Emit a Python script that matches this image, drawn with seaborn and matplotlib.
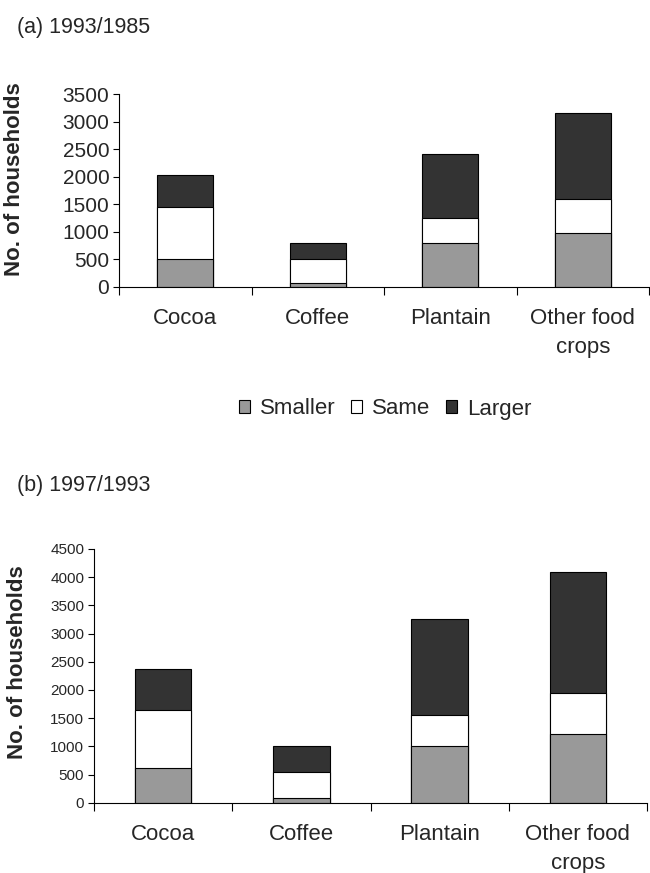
import matplotlib
matplotlib.use("Agg")
import matplotlib.pyplot as plt
import pandas as pd
import seaborn as sns
from matplotlib.patches import Patch

# Categories and stack segments (number of households)
crops = ["Cocoa", "Coffee", "Plantain", "Other food\ncrops"]
series = ["Smaller", "Same", "Larger"]
series_colors = ["#999999", "#ffffff", "#333333"]

# (a) 1993/1985
smaller_a = [500, 80, 800, 980]
same_a = [950, 420, 460, 620]
larger_a = [580, 300, 1160, 1550]

# (b) 1997/1993
smaller_b = [620, 80, 1000, 1210]
same_b = [1020, 460, 555, 730]
larger_b = [740, 460, 1705, 2160]

yticks_a = [0, 500, 1000, 1500, 2000, 2500, 3000, 3500]
yticks_b = [0, 500, 1000, 1500, 2000, 2500, 3000, 3500, 4000, 4500]

sns.set_style("ticks")
plt.rcParams["font.family"] = ["Liberation Sans", "DejaVu Sans"]

fig = plt.figure(figsize=(6.5, 8.73), dpi=100)


def long_table(smaller, same, larger):
    rows = []
    for name, vals in zip(series, [smaller, same, larger]):
        for crop, v in zip(crops, vals):
            rows.append({"crop": crop, "series": name, "value": v})
    df = pd.DataFrame(rows)
    df["series"] = pd.Categorical(df["series"], categories=series, ordered=True)
    df = df.sort_values(["crop", "series"])
    df["top"] = df.groupby("crop", sort=False)["value"].cumsum()
    return df


def stacked_panel(ax, df, yticks, bar_width, tick_fs, label_fs, ylabel_xy):
    # draw cumulative layers from the top segment down
    for name, col in reversed(list(zip(series, series_colors))):
        part = df[df["series"] == name]
        sns.barplot(data=part, x="crop", y="top", order=crops, color=col,
                    saturation=1, width=bar_width, edgecolor="black",
                    linewidth=0.8, ax=ax, errorbar=None)
    ax.set_xlim(-0.5, len(crops) - 0.5)
    ax.set_ylim(yticks[0], yticks[-1])
    ax.set_yticks(yticks)
    ax.set_yticklabels([str(t) for t in yticks], fontsize=tick_fs)
    ax.set_xlabel("")
    ax.set_ylabel("No. of households", fontsize=16, fontweight="bold")
    ax.yaxis.set_label_coords(*ylabel_xy)
    ax.set_xticks(range(len(crops)))
    ax.set_xticklabels(crops, fontsize=label_fs, linespacing=1.5)
    ax.set_xticks([i - 0.5 for i in range(len(crops) + 1)], minor=True)
    ax.tick_params(axis="x", which="major", length=0, pad=15)
    ax.tick_params(axis="x", which="minor", length=6, width=0.8,
                   direction="out", color="black")
    ax.tick_params(axis="y", length=4, width=0.8, direction="out",
                   color="black", pad=3)
    for side in ["top", "right"]:
        ax.spines[side].set_visible(False)
    for side in ["left", "bottom"]:
        ax.spines[side].set_color("black")
        ax.spines[side].set_linewidth(0.8)


ax_a = fig.add_axes([119 / 650, 1 - 287 / 873, 530 / 650, 193 / 873])
stacked_panel(ax_a, long_table(smaller_a, same_a, larger_a), yticks_a,
              0.42, 15, 16, (-0.177, 0.56))

ax_b = fig.add_axes([94 / 650, 1 - 802.7 / 873, 553 / 650, 253.7 / 873])
stacked_panel(ax_b, long_table(smaller_b, same_b, larger_b), yticks_b,
              0.41, 11, 16, (-0.119, 0.555))

fig.text(17 / 650, 1 - 27 / 873, "(a) 1993/1985", fontsize=15.5,
         ha="left", va="center")
fig.text(17 / 650, 1 - 485 / 873, "(b) 1997/1993", fontsize=15.5,
         ha="left", va="center")

handles = [Patch(facecolor=c, edgecolor="black", linewidth=0.8)
           for c in series_colors]
fig.legend(handles, series, loc="center", bbox_to_anchor=(385 / 650, 1 - 409 / 873),
           ncol=3, frameon=False, fontsize=16, handlelength=0.5,
           handleheight=0.5, handletextpad=0.45, columnspacing=0.7)

fig.savefig("out.png", dpi=100)
